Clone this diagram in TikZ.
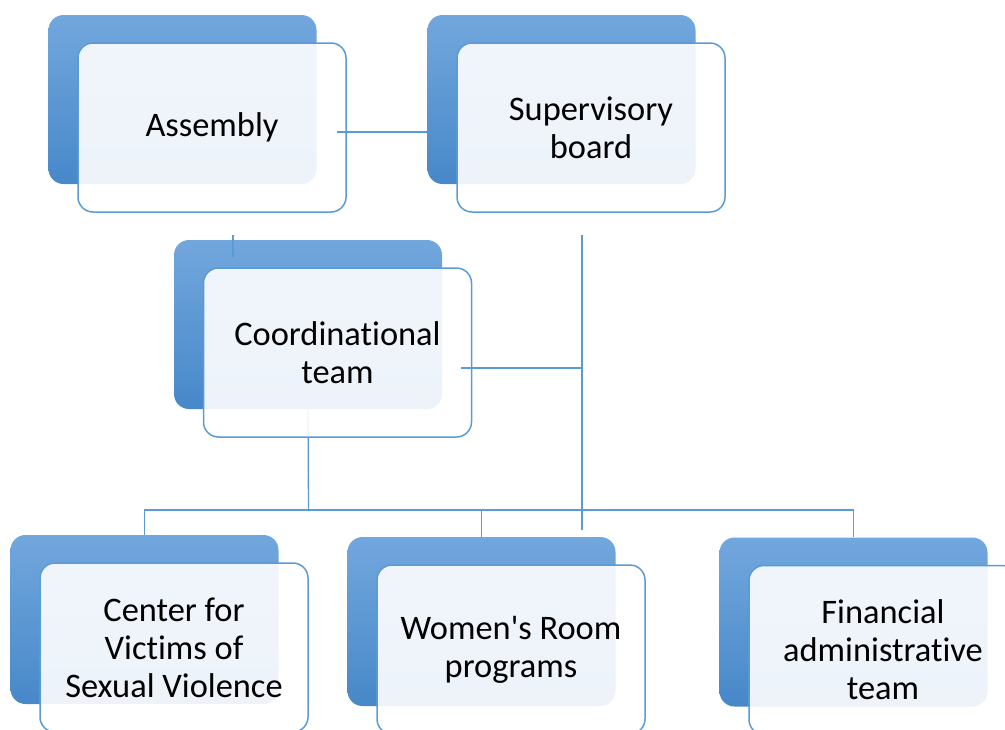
\documentclass[tikz,border=0pt]{standalone}
\usepackage{fontspec}
\setmainfont{Carlito}[Ligatures={NoCommon}]
\usetikzlibrary{backgrounds,calc}
\definecolor{linkblue}{HTML}{5B9BD5}
\definecolor{backtop}{HTML}{72A7DD}
\definecolor{backbot}{HTML}{4788C9}

\begin{document}
\begin{tikzpicture}[x=0.5pt, y=-0.5pt]
  \tikzstyle{front} = [rectangle, rounded corners=7.5pt, draw=linkblue, line width=0.75pt, fill=white, fill opacity=0.9, text opacity=1, minimum width=134pt, minimum height=84.5pt, inner sep=0pt, align=center, font=\fontsize{17.2}{19}\selectfont]
  \tikzstyle{back} = [rectangle, rounded corners=7.5pt, top color=backtop, bottom color=backbot, minimum width=134pt, minimum height=84.5pt, inner sep=0pt]
  \tikzstyle{link} = [draw=linkblue, line width=0.65pt]
  \useasboundingbox (0,0) rectangle (1005,729);
  \clip (0,0) rectangle (1005,729);
  % front cards
  \node[front] (assemF) at (212, 127.5) {Assembly};
  \node[front] (superF) at (591, 127.5) {Supervisory\\board};
  \node[front] (coordF) at (337.5, 352.5) {Coordinational\\team};
  \node[front] (centF) at (174, 647.5) {Center for\\Victims of\\Sexual Violence};
  \node[front] (womF) at (511, 649.5) {Women\textquotesingle s Room\\programs};
  \node[front] (finF) at (883, 650) {Financial\\administrative\\team};
  \begin{scope}[on background layer]
    \foreach \n in {assem,super,coord,cent,wom,fin}
      \node[back] (\n B) at ($(\n F)+(-29.5,-28)$) {};
    \coordinate (hub) at (308.5, 510);
    \draw[link] (coordB.south) -- (hub);
  \end{scope}
  % connectors
  \coordinate (a1) at ($(assemF.east)+(-10,4.5)$);
  \draw[link] (a1) -- (a1 -| superB.west);
  \coordinate (s1) at (233, 235);
  \coordinate (s2) at (233, 257);
  \draw[link] (s1) -- (s2);
  \coordinate (v1) at (582, 235);
  \coordinate (v2) at (582, 530);
  \draw[link] (v1) -- (v2);
  \coordinate (c1) at ($(coordF.east)+(-11,15.5)$);
  \draw[link] (c1) -- (c1 -| v1);
  \draw[link] (centB.north) |- (hub) -| (finB.north);
  \draw[link] (womB.north) -- (womB.north |- hub);
\end{tikzpicture}
\end{document}
